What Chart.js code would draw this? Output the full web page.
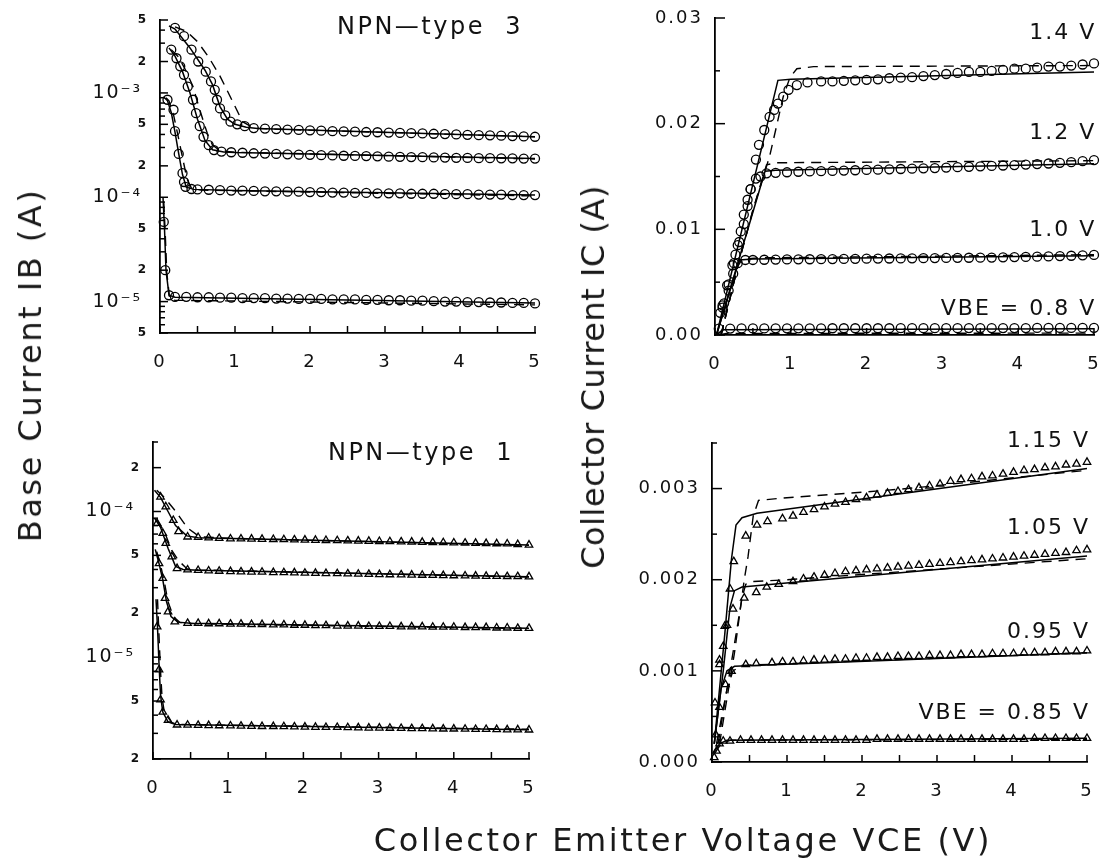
<!DOCTYPE html>
<html><head><meta charset="utf-8">
<script src="https://cdn.jsdelivr.net/npm/chart.js@4.4.1/dist/chart.umd.min.js"></script>
<style>
html,body{margin:0;padding:0;background:#fff;}
#wrap{position:relative;width:1109px;height:863px;overflow:hidden;background:#fff;}
#wrap canvas{position:absolute;left:0;top:0;}
.ttl{position:absolute;font-family:'DejaVu Sans',sans-serif;font-size:32px;color:#1a1a1a;white-space:nowrap;line-height:1;transform:translate(-50%,-50%);}
.rot{transform:translate(-50%,-50%) rotate(-90deg);}
</style></head>
<body><div id="wrap">
<canvas id="cTL" width="1109" height="863"></canvas>
<canvas id="cTR" width="1109" height="863"></canvas>
<canvas id="cBL" width="1109" height="863"></canvas>
<canvas id="cBR" width="1109" height="863"></canvas>
<div class="ttl rot" style="left:30px;top:365px;letter-spacing:2.5px">Base Current IB (A)</div>
<div class="ttl rot" style="left:593px;top:377px;letter-spacing:0.5px">Collector Current IC (A)</div>
<div class="ttl" style="left:683px;top:840px;letter-spacing:2.6px">Collector Emitter Voltage VCE (V)</div>
</div>
<script>
// ---------- shared x ticks ----------
const xTickValues = [0,0.5,1,1.5,2,2.5,3,3.5,4,4.5,5];
const xTickText   = ['0','','1','','2','','3','','4','','5'];

// ---------- Top-left: NPN-type 3, IB (log) ----------
const tlYTickVals = [5e-6,6e-6,7e-6,8e-6,9e-6,1e-5,2e-5,3e-5,4e-5,5e-5,6e-5,7e-5,8e-5,9e-5,1e-4,2e-4,3e-4,4e-4,5e-4,6e-4,7e-4,8e-4,9e-4,1e-3,2e-3,3e-3,4e-3,5e-3];
const tlYTickText = ['5','','','','','10⁻⁵','2','','','5','','','','','10⁻⁴','2','','','5','','','','','10⁻³','2','','','5'];
const tlSweep = [0.2,0.35,0.5,0.65,0.8,0.95,1.1,1.25,1.4,1.55,1.7,1.85,2.0,2.15,2.3,2.45,2.6,2.75,2.9,3.05,3.2,3.35,3.5,3.65,3.8,3.95,4.1,4.25,4.4,4.55,4.7,4.85,5.0];
const tlA_riseV = [0.2,0.32,0.42,0.51,0.61,0.68,0.73,0.76,0.8,0.87,0.94,1.03,1.13];
const tlA_I = [4.2e-3,3.5e-3,2.6e-3,2.0e-3,1.6e-3,1.29e-3,1.07e-3,8.6e-4,7.1e-4,6.1e-4,5.3e-4,5.0e-4,4.8e-4,
  4.6e-4,4.55e-4,4.5e-4,4.45e-4,4.42e-4,4.38e-4,4.35e-4,4.3e-4,4.28e-4,4.25e-4,4.22e-4,4.2e-4,4.17e-4,4.14e-4,4.11e-4,4.09e-4,4.06e-4,4.03e-4,4.0e-4,3.97e-4,3.94e-4,3.92e-4,3.89e-4,3.86e-4,3.83e-4,3.8e-4];
const tlB_riseV = [0.15,0.22,0.27,0.32,0.37,0.44,0.48,0.53,0.58,0.65,0.72,0.82];
const tlB_I = [2.6e-3,2.15e-3,1.8e-3,1.49e-3,1.15e-3,8.6e-4,6.4e-4,4.8e-4,3.8e-4,3.16e-4,2.83e-4,2.74e-4,
  2.70e-4,2.67e-4,2.64e-4,2.62e-4,2.6e-4,2.58e-4,2.56e-4,2.55e-4,2.53e-4,2.52e-4,2.5e-4,2.49e-4,2.48e-4,2.47e-4,2.45e-4,2.44e-4,2.43e-4,2.42e-4,2.41e-4,2.4e-4,2.39e-4,2.38e-4,2.37e-4,2.37e-4,2.36e-4,2.36e-4,2.35e-4,2.35e-4];
const tlC_riseV = [0.1,0.18,0.2,0.25,0.3,0.32,0.34,0.42];
const tlC_I = [8.6e-4,6.9e-4,4.3e-4,2.6e-4,1.7e-4,1.4e-4,1.26e-4,1.2e-4,
  1.19e-4,1.18e-4,1.17e-4,1.16e-4,1.16e-4,1.15e-4,1.14e-4,1.14e-4,1.13e-4,1.13e-4,1.12e-4,1.12e-4,1.11e-4,1.11e-4,1.1e-4,1.1e-4,1.09e-4,1.09e-4,1.09e-4,1.08e-4,1.08e-4,1.08e-4,1.07e-4,1.07e-4,1.07e-4,1.06e-4,1.06e-4,1.06e-4,1.05e-4,1.05e-4,1.05e-4];
const tlD_riseV = [0.05,0.07,0.12];
const tlD_I = [5.8e-5,2.0e-5,1.15e-5,
  1.11e-5,1.11e-5,1.1e-5,1.1e-5,1.09e-5,1.09e-5,1.08e-5,1.08e-5,1.08e-5,1.07e-5,1.07e-5,1.06e-5,1.06e-5,1.06e-5,1.05e-5,1.05e-5,1.05e-5,1.04e-5,1.04e-5,1.03e-5,1.03e-5,1.02e-5,1.02e-5,1.01e-5,1.0e-5,1.0e-5,9.9e-6,9.9e-6,9.8e-6,9.8e-6,9.7e-6,9.7e-6,9.6e-6];
const tlA_solidV = [0.12,0.2,0.4,0.6,0.7,0.8,0.9,1.0,1.15,1.3,5.0];
const tlA_solidI = [4.4e-3,4.1e-3,2.7e-3,1.65e-3,1.2e-3,7.4e-4,5.6e-4,5.0e-4,4.7e-4,4.55e-4,3.8e-4];
const tlA_dashV = [0.2,0.35,0.5,0.65,0.8,0.95,1.1,1.25,1.5,5.0];
const tlA_dashI = [4.3e-3,3.9e-3,3.1e-3,2.2e-3,1.45e-3,8.8e-4,5.3e-4,4.6e-4,4.5e-4,3.8e-4];
const tlB_solidV = [0.12,0.2,0.3,0.4,0.5,0.6,0.7,0.85,1.0,5.0];
const tlB_solidI = [2.7e-3,2.25e-3,1.6e-3,1.0e-3,5.6e-4,3.5e-4,2.85e-4,2.72e-4,2.68e-4,2.35e-4];
const tlB_dashV = [0.15,0.25,0.34,0.44,0.51,0.58,0.63,0.7,0.8,1.0,5.0];
const tlB_dashI = [2.6e-3,2.2e-3,1.66e-3,1.15e-3,7.7e-4,5.3e-4,4.1e-4,3.16e-4,2.8e-4,2.7e-4,2.33e-4];
const tlC_solidV = [0.06,0.1,0.15,0.2,0.25,0.3,0.35,0.45,1.0,5.0];
const tlC_solidI = [9e-4,8.4e-4,6.5e-4,4.2e-4,2.6e-4,1.65e-4,1.25e-4,1.19e-4,1.16e-4,1.05e-4];
const tlC_dashV = [0.08,0.12,0.18,0.24,0.3,0.36,0.42,0.55,5.0];
const tlC_dashI = [9e-4,8.4e-4,6.2e-4,3.9e-4,2.4e-4,1.5e-4,1.22e-4,1.17e-4,1.03e-4];
const tlD_solidV = [0.04,0.06,0.08,0.12,0.2,5.0];
const tlD_solidI = [1e-4,5e-5,2e-5,1.15e-5,1.1e-5,9.7e-6];
const tlD_dashV = [0.05,0.07,0.09,0.13,0.2,5.0];
const tlD_dashI = [9e-5,4.5e-5,1.9e-5,1.05e-5,1.03e-5,9.3e-6];

// ---------- Top-right: IC (linear), VBE 0.8..1.4 V ----------
const trYTickVals = [0,0.005,0.01,0.015,0.02,0.025,0.03];
const trYTickText = ['0.00','','0.01','','0.02','','0.03'];
const trSweep = [0.05,0.2,0.35,0.5,0.65,0.8,0.95,1.1,1.25,1.4,1.55,1.7,1.85,2.0,2.15,2.3,2.45,2.6,2.75,2.9,3.05,3.2,3.35,3.5,3.65,3.8,3.95,4.1,4.25,4.4,4.55,4.7,4.85,5.0];
const tr08_I = [0.0006,0.00061,0.00062,0.00062,0.00062,0.00063,0.00063,0.00063,0.00063,0.00063,0.00064,0.00064,0.00064,0.00064,0.00064,0.00064,0.00065,0.00065,0.00065,0.00065,0.00065,0.00065,0.00066,0.00066,0.00066,0.00066,0.00066,0.00066,0.00067,0.00067,0.00067,0.00067,0.00067,0.00068];
const tr10_riseV = [0.07,0.12,0.18,0.24,0.3,0.4];
const tr10_I = [0.0021,0.003,0.0042,0.0058,0.0068,0.0071,
  0.0071,0.00712,0.00714,0.00715,0.00716,0.00717,0.00718,0.00719,0.0072,0.00721,0.00722,0.00723,0.00724,0.00725,0.00726,0.00727,0.00728,0.00729,0.0073,0.00731,0.00732,0.00733,0.00735,0.00737,0.00739,0.00741,0.00744,0.00747,0.0075,0.00754,0.00758];
const tr12_riseV = [0.1,0.16,0.23,0.27,0.32,0.38,0.43,0.47,0.54,0.6,0.68];
const tr12_I = [0.0026,0.0047,0.0066,0.0076,0.0088,0.0105,0.0122,0.0138,0.0148,0.015,0.0153,
  0.01535,0.0154,0.01545,0.01548,0.0155,0.01553,0.01556,0.01559,0.01562,0.01565,0.01568,0.01571,0.01574,0.01577,0.0158,0.01584,0.01588,0.01592,0.01596,0.016,0.01604,0.01608,0.01613,0.01618,0.01623,0.01629,0.01636,0.01645,0.01655];
const tr14_riseV = [0.1,0.18,0.25,0.3,0.34,0.38,0.43,0.47,0.54,0.58,0.65,0.72,0.78,0.83,0.9,0.97,1.08,1.22];
const tr14_I = [0.0028,0.0048,0.0068,0.0085,0.0098,0.0114,0.0128,0.0138,0.0166,0.018,0.0194,0.02065,0.0213,0.0219,0.02255,0.0232,0.02365,0.0239,
  0.024,0.024,0.02405,0.0241,0.02415,0.0242,0.0243,0.02435,0.0244,0.0245,0.0246,0.0247,0.0248,0.0249,0.0249,0.025,0.0251,0.0252,0.0252,0.0253,0.0254,0.0254,0.0255,0.0256,0.0257];
const tr14_solidV = [0.02,0.83,1.0,5.0];       const tr14_solidI = [0,0.0241,0.0242,0.0249];
const tr14_dashV = [0.08,0.3,0.5,0.72,0.81,0.9,0.99,1.08,1.3,5.0];
const tr14_dashI = [0,0.0065,0.0118,0.0169,0.0197,0.02255,0.0244,0.0252,0.0254,0.0255];
const tr12_solidV = [0.02,0.66,0.8,5.0];       const tr12_solidI = [0,0.0155,0.0156,0.0162];
const tr12_dashV = [0.08,0.3,0.5,0.6,0.68,0.8,5.0];
const tr12_dashI = [0,0.0065,0.0118,0.0142,0.0161,0.0163,0.0165];
const tr10_solidV = [0.02,0.32,0.5,5.0];       const tr10_solidI = [0,0.0071,0.0072,0.0075];
const tr10_dashV = [0.08,0.3,0.36,0.6,5.0];    const tr10_dashI = [0,0.0065,0.0072,0.0073,0.0076];
const tr08_solidV = [0.02,0.1,5.0];            const tr08_solidI = [0,0.0005,0.0006];
const tr08_dashV = [0.05,0.15,5.0];            const tr08_dashI = [0,0.00015,0.00018];

// ---------- Bottom-left: NPN-type 1, IB (log) ----------
const blYTickVals = [2e-6,3e-6,4e-6,5e-6,6e-6,7e-6,8e-6,9e-6,1e-5,2e-5,3e-5,4e-5,5e-5,6e-5,7e-5,8e-5,9e-5,1e-4,2e-4,3e-4];
const blYTickText = ['2','','','5','','','','','10⁻⁵','2','','','5','','','','','10⁻⁴','2',''];
const blSweep = [0.32,0.46,0.6,0.74,0.88,1.03,1.17,1.31,1.45,1.6,1.74,1.88,2.02,2.16,2.3,2.45,2.59,2.73,2.87,3.01,3.15,3.3,3.44,3.58,3.72,3.86,4.0,4.15,4.29,4.43,4.57,4.71,4.85,5.0];
const bl1_riseV = [0.1,0.17,0.27,0.34];
const bl1_I = [1.26e-4,1.08e-4,8.7e-5,7.3e-5,
  6.7e-5,6.65e-5,6.6e-5,6.55e-5,6.5e-5,6.5e-5,6.48e-5,6.46e-5,6.44e-5,6.42e-5,6.4e-5,6.38e-5,6.36e-5,6.34e-5,6.32e-5,6.3e-5,6.28e-5,6.26e-5,6.24e-5,6.22e-5,6.2e-5,6.18e-5,6.16e-5,6.14e-5,6.12e-5,6.1e-5,6.08e-5,6.06e-5,6.04e-5,6.02e-5,6.0e-5,5.95e-5,5.9e-5];
const bl2_riseV = [0.055,0.13,0.17,0.25,0.32];
const bl2_I = [8.3e-5,7.1e-5,6.05e-5,4.9e-5,4.07e-5,
  3.98e-5,3.95e-5,3.92e-5,3.9e-5,3.88e-5,3.86e-5,3.85e-5,3.84e-5,3.82e-5,3.81e-5,3.8e-5,3.78e-5,3.77e-5,3.76e-5,3.75e-5,3.74e-5,3.72e-5,3.71e-5,3.7e-5,3.69e-5,3.68e-5,3.67e-5,3.66e-5,3.65e-5,3.64e-5,3.63e-5,3.62e-5,3.61e-5,3.6e-5,3.59e-5,3.58e-5,3.58e-5,3.57e-5];
const bl3_riseV = [0.08,0.13,0.16,0.2,0.29];
const bl3_I = [4.4e-5,3.48e-5,2.54e-5,2.05e-5,1.75e-5,
  1.71e-5,1.71e-5,1.7e-5,1.7e-5,1.69e-5,1.69e-5,1.68e-5,1.68e-5,1.67e-5,1.67e-5,1.66e-5,1.66e-5,1.65e-5,1.65e-5,1.64e-5,1.64e-5,1.64e-5,1.63e-5,1.63e-5,1.63e-5,1.62e-5,1.62e-5,1.62e-5,1.61e-5,1.61e-5,1.61e-5,1.6e-5,1.6e-5,1.6e-5,1.59e-5,1.59e-5,1.58e-5,1.58e-5];
const bl4_riseV = [0.055,0.08,0.1,0.13,0.2];
const bl4_I = [1.62e-5,8.2e-6,5.1e-6,4.2e-6,3.7e-6,
  3.43e-6,3.42e-6,3.41e-6,3.4e-6,3.39e-6,3.38e-6,3.37e-6,3.36e-6,3.35e-6,3.35e-6,3.34e-6,3.33e-6,3.32e-6,3.31e-6,3.3e-6,3.3e-6,3.29e-6,3.28e-6,3.27e-6,3.27e-6,3.26e-6,3.25e-6,3.24e-6,3.24e-6,3.23e-6,3.22e-6,3.22e-6,3.21e-6,3.2e-6,3.2e-6,3.19e-6,3.18e-6,3.18e-6,3.17e-6];
const bl1_solidV = [0.02,0.1,0.2,0.3,0.45,0.6,5.0];   const bl1_solidI = [1.4e-4,1.25e-4,1.0e-4,8.0e-5,6.8e-5,6.6e-5,5.9e-5];
const bl1_dashV = [0.05,0.15,0.29,0.46,0.62,1.0,5.0]; const bl1_dashI = [1.4e-4,1.25e-4,1.02e-4,7.7e-5,6.7e-5,6.55e-5,5.85e-5];
const bl2_solidV = [0.02,0.1,0.2,0.3,0.4,0.6,5.0];    const bl2_solidI = [9e-5,7.8e-5,5.6e-5,4.2e-5,4.0e-5,3.95e-5,3.57e-5];
const bl2_dashV = [0.05,0.15,0.25,0.34,0.45,0.6,5.0]; const bl2_dashI = [8.8e-5,7.3e-5,5.4e-5,4.6e-5,4.05e-5,3.97e-5,3.55e-5];
const bl3_solidV = [0.03,0.08,0.13,0.18,0.24,0.33,0.5,5.0]; const bl3_solidI = [5.5e-5,4.4e-5,3.4e-5,2.4e-5,1.9e-5,1.74e-5,1.71e-5,1.58e-5];
const bl3_dashV = [0.05,0.1,0.15,0.2,0.27,0.36,0.55,5.0];  const bl3_dashI = [5.3e-5,4.3e-5,3.3e-5,2.4e-5,1.9e-5,1.73e-5,1.7e-5,1.57e-5];
const bl4_solidV = [0.04,0.06,0.08,0.1,0.13,0.2,0.3,5.0];  const bl4_solidI = [2.5e-5,1.6e-5,9e-6,5.5e-6,4.2e-6,3.6e-6,3.45e-6,3.17e-6];
const bl4_dashV = [0.06,0.08,0.1,0.12,0.15,0.25,0.35,5.0]; const bl4_dashI = [2.5e-5,1.4e-5,8e-6,5.3e-6,4.2e-6,3.55e-6,3.45e-6,3.2e-6];

// ---------- Bottom-right: IC (linear), VBE 0.85..1.15 V ----------
const brYTickVals = [0,0.0005,0.001,0.0015,0.002,0.0025,0.003,0.0035];
const brYTickText = ['0.000','','0.001','','0.002','','0.003',''];
const brSweep = [0.24,0.38,0.52,0.66,0.8,0.94,1.08,1.22,1.36,1.5,1.64,1.78,1.92,2.06,2.2,2.34,2.48,2.62,2.76,2.9,3.04,3.18,3.32,3.46,3.6,3.74,3.88,4.02,4.16,4.3,4.44,4.58,4.72,4.86,5.0];
const br085_riseV = [0.03,0.06,0.1,0.15];
const br085_I = [0.00005,0.00012,0.0002,0.00023,
  0.00023,0.00024,0.00024,0.00024,0.00024,0.00024,0.00024,0.00024,0.00024,0.00024,0.00024,0.00024,0.00024,0.00024,0.00025,0.00025,0.00025,0.00025,0.00025,0.00025,0.00025,0.00025,0.00025,0.00025,0.00025,0.00025,0.00025,0.00025,0.00025,0.00026,0.00026,0.00026,0.00026,0.00026,0.00026];
const br095_riseV = [0.05,0.1,0.18,0.26,0.45,0.59];
const br095_I = [0.0003,0.0006,0.00085,0.000995,0.00107,0.00108,
  0.00109,0.0011,0.0011,0.00111,0.00112,0.00112,0.00113,0.00113,0.00114,0.00114,0.00115,0.00115,0.00116,0.00116,0.00116,0.00117,0.00117,0.00117,0.00118,0.00118,0.00118,0.00119,0.00119,0.00119,0.0012,0.0012,0.0012,0.00121,0.00121,0.00121,0.00122];
const br105_riseV = [0.04,0.1,0.15,0.2,0.28,0.43,0.59,0.73,0.89];
const br105_I = [0.00065,0.00107,0.00127,0.0015,0.00168,0.0018,0.00186,0.00192,0.00195,
  0.00198,0.00201,0.00203,0.00205,0.00207,0.00209,0.0021,0.00211,0.00212,0.00213,0.00214,0.00215,0.00216,0.00217,0.00218,0.00219,0.0022,0.00221,0.00222,0.00223,0.00224,0.00225,0.00226,0.00227,0.00228,0.00229,0.0023,0.00232,0.00233];
const br115_riseV = [0.1,0.17,0.24,0.29,0.45,0.6,0.74];
const br115_I = [0.00112,0.00149,0.0019,0.0022,0.00248,0.0026,0.00264,
  0.00267,0.0027,0.00274,0.00277,0.0028,0.00283,0.00285,0.00288,0.0029,0.00293,0.00295,0.00297,0.00299,0.00301,0.00303,0.00305,0.00308,0.0031,0.00311,0.00313,0.00314,0.00316,0.00318,0.0032,0.00321,0.00323,0.00324,0.00326,0.00327,0.00329];
const br115_solidV = [0.03,0.17,0.26,0.32,0.4,0.6,5.0];  const br115_solidI = [0.0002,0.0014,0.00223,0.0026,0.00268,0.00273,0.00322];
const br115_dashV = [0.1,0.3,0.43,0.48,0.55,0.62,1.0,1.5,2.0,2.6,5.0];
const br115_dashI = [0.0002,0.0012,0.002,0.00225,0.0027,0.00287,0.0029,0.00293,0.00296,0.003,0.0032];
const br105_solidV = [0.03,0.15,0.24,0.3,0.4,5.0];      const br105_solidI = [0.0002,0.001,0.0017,0.00188,0.00192,0.00226];
const br105_dashV = [0.08,0.3,0.4,0.45,0.55,1.0,5.0];   const br105_dashI = [0.0002,0.0013,0.0018,0.00195,0.00198,0.002,0.00223];
const br095_solidV = [0.03,0.12,0.2,0.3,5.0];           const br095_solidI = [0.0002,0.0008,0.001,0.00105,0.0012];
const br095_dashV = [0.06,0.2,0.28,0.4,5.0];            const br095_dashI = [0.0002,0.0008,0.001,0.00106,0.0012];
const br085_solidV = [0.02,0.1,0.2,5.0];                const br085_solidI = [0.0001,0.0002,0.00024,0.00026];
const br085_dashV = [0.04,0.12,0.25,5.0];               const br085_dashI = [0.0001,0.0002,0.00024,0.00025];

// ---------- helpers ----------
const FONT = "'DejaVu Sans', sans-serif";
const W = 1109, H = 863, YW = 120, XH = 44;
function pts(v, i) { return v.map((x, k) => ({x: x, y: i[k]})); }
function solid(v, i) { return {data: pts(v, i), showLine: true, borderColor: '#000', borderWidth: 1.5, pointRadius: 0, pointHoverRadius: 0, fill: false, tension: 0, clip: false}; }
function dashed(v, i) { const d = solid(v, i); d.borderDash = [10, 7]; d.borderWidth = 1.4; return d; }
function marks(v, i, style) {
  return {data: pts(v, i), showLine: false, pointStyle: style, pointRadius: style === 'circle' ? 4.5 : 4.3,
    pointBorderColor: '#000', pointBackgroundColor: 'rgba(0,0,0,0)', pointBorderWidth: 1.3,
    borderColor: '#000', backgroundColor: 'rgba(0,0,0,0)', clip: false};
}
const spacingPlugin = {id: 'spacing', beforeDraw(c) { c.ctx.letterSpacing = '2px'; }};
function innerTicks(yLen, yMinor) {
  return {id: 'innerTicks', afterDraw(c) {
    const ctx = c.ctx, xs = c.scales.x, ys = c.scales.y;
    ctx.save(); ctx.strokeStyle = '#000'; ctx.lineWidth = 1.5;
    xs.ticks.forEach(t => { const p = xs.getPixelForValue(t.value); ctx.beginPath(); ctx.moveTo(p, xs.top); ctx.lineTo(p, xs.top - 7); ctx.stroke(); });
    ys.ticks.forEach(t => { const p = ys.getPixelForValue(t.value); const L = t.label ? yLen : yMinor; ctx.beginPath(); ctx.moveTo(ys.right, p); ctx.lineTo(ys.right + L, p); ctx.stroke(); });
    ctx.restore();
  }};
}
function notesPlugin(items) {
  return {id: 'notes', afterDraw(c) {
    const ctx = c.ctx; ctx.save();
    items.forEach(it => {
      ctx.font = it.font; ctx.letterSpacing = it.ls; ctx.fillStyle = '#111';
      ctx.textAlign = 'right'; ctx.textBaseline = 'middle';
      ctx.fillText(it.text, c.scales.x.getPixelForValue(it.x), c.scales.y.getPixelForValue(it.y));
    });
    ctx.restore();
  }};
}
function zeroPad(s) { s.paddingLeft = 0; s.paddingRight = 0; s.paddingTop = 0; s.paddingBottom = 0; }

function panel(id, area, yType, yMin, yMax, yVals, yText, datasets, notes) {
  const isLog = yType === 'logarithmic';
  new Chart(document.getElementById(id), {
    type: 'scatter',
    data: {datasets: datasets},
    options: {
      responsive: false, animation: false, devicePixelRatio: 1,
      events: [],
      layout: {padding: {left: area.l - YW, top: area.t, right: W - area.r, bottom: H - area.b - XH}},
      plugins: {legend: {display: false}, tooltip: {enabled: false}},
      scales: {
        x: {type: 'linear', min: 0, max: 5,
          afterBuildTicks: s => { s.ticks = xTickValues.map(v => ({value: v})); },
          afterFit: s => { s.height = XH; zeroPad(s); },
          grid: {display: false, drawTicks: false},
          border: {display: true, color: '#000', width: 1.8},
          ticks: {autoSkip: false, maxRotation: 0, padding: 19, color: '#111', font: {family: FONT, size: 18},
            callback: (v, i) => xTickText[i]}},
        y: {type: yType, min: yMin, max: yMax,
          afterBuildTicks: s => { s.ticks = yVals.map(v => ({value: v})); },
          afterFit: s => { s.width = YW; zeroPad(s); },
          grid: {display: false, drawTicks: false},
          border: {display: true, color: '#000', width: 1.8},
          ticks: {autoSkip: false, padding: 12, color: '#111',
            font: c => {
              const t = yText[c.index] || '';
              if (!isLog) return {family: FONT, size: 18};
              if (t.startsWith('10')) return {family: FONT, size: 19};
              return {family: FONT, size: 12, weight: 'bold'};
            },
            callback: (v, i) => (isLog && yText[i].startsWith('10')) ? yText[i] + '\u2009' : yText[i]}}
      }
    },
    plugins: [spacingPlugin, innerTicks(isLog ? 8 : 10, 5), notesPlugin(notes)]
  });
}

// ---------- build panels ----------
panel('cTL', {l: 160, t: 20, r: 535, b: 333}, 'logarithmic', 5e-6, 5e-3, tlYTickVals, tlYTickText, [
  solid(tlA_solidV, tlA_solidI), dashed(tlA_dashV, tlA_dashI), marks([...tlA_riseV, ...tlSweep.slice(7)], tlA_I, 'circle'),
  solid(tlB_solidV, tlB_solidI), dashed(tlB_dashV, tlB_dashI), marks([...tlB_riseV, ...tlSweep.slice(5)], tlB_I, 'circle'),
  solid(tlC_solidV, tlC_solidI), dashed(tlC_dashV, tlC_dashI), marks([...tlC_riseV, ...tlSweep.slice(2)], tlC_I, 'circle'),
  solid(tlD_solidV, tlD_solidI), dashed(tlD_dashV, tlD_dashI), marks([...tlD_riseV, ...tlSweep], tlD_I, 'circle')
], [{text: 'NPN—type  3', x: 4.84, y: 4.2e-3, font: "24px 'DejaVu Sans'", ls: '2.5px'}]);

panel('cTR', {l: 715, t: 18, r: 1094, b: 335}, 'linear', 0, 0.03, trYTickVals, trYTickText, [
  solid(tr14_solidV, tr14_solidI), dashed(tr14_dashV, tr14_dashI), marks([...tr14_riseV, ...trSweep.slice(9)], tr14_I, 'circle'),
  solid(tr12_solidV, tr12_solidI), dashed(tr12_dashV, tr12_dashI), marks([...tr12_riseV, ...trSweep.slice(5)], tr12_I, 'circle'),
  solid(tr10_solidV, tr10_solidI), dashed(tr10_dashV, tr10_dashI), marks([...tr10_riseV, ...trSweep.slice(3)], tr10_I, 'circle'),
  solid(tr08_solidV, tr08_solidI), dashed(tr08_dashV, tr08_dashI), marks(trSweep, tr08_I, 'circle')
], [
  {text: '1.4 V', x: 5.03, y: 0.0286, font: "22px 'DejaVu Sans'", ls: '2px'},
  {text: '1.2 V', x: 5.03, y: 0.0191, font: "22px 'DejaVu Sans'", ls: '2px'},
  {text: '1.0 V', x: 5.03, y: 0.0099, font: "22px 'DejaVu Sans'", ls: '2px'},
  {text: 'VBE = 0.8 V', x: 5.03, y: 0.0024, font: "22px 'DejaVu Sans'", ls: '2px'}
]);

panel('cBL', {l: 153, t: 442, r: 529, b: 759}, 'logarithmic', 2e-6, 3e-4, blYTickVals, blYTickText, [
  solid(bl1_solidV, bl1_solidI), dashed(bl1_dashV, bl1_dashI), marks([...bl1_riseV, ...blSweep.slice(1)], bl1_I, 'triangle'),
  solid(bl2_solidV, bl2_solidI), dashed(bl2_dashV, bl2_dashI), marks([...bl2_riseV, ...blSweep.slice(1)], bl2_I, 'triangle'),
  solid(bl3_solidV, bl3_solidI), dashed(bl3_dashV, bl3_dashI), marks([...bl3_riseV, ...blSweep.slice(1)], bl3_I, 'triangle'),
  solid(bl4_solidV, bl4_solidI), dashed(bl4_dashV, bl4_dashI), marks([...bl4_riseV, ...blSweep], bl4_I, 'triangle')
], [{text: 'NPN—type  1', x: 4.8, y: 2.48e-4, font: "24px 'DejaVu Sans'", ls: '2.5px'}]);

panel('cBR', {l: 712, t: 443, r: 1087, b: 762}, 'linear', 0, 0.0035, brYTickVals, brYTickText, [
  solid(br115_solidV, br115_solidI), dashed(br115_dashV, br115_dashI), marks([...br115_riseV, ...brSweep.slice(5)], br115_I, 'triangle'),
  solid(br105_solidV, br105_solidI), dashed(br105_dashV, br105_dashI), marks([...br105_riseV, ...brSweep.slice(6)], br105_I, 'triangle'),
  solid(br095_solidV, br095_solidI), dashed(br095_dashV, br095_dashI), marks([...br095_riseV, ...brSweep.slice(4)], br095_I, 'triangle'),
  solid(br085_solidV, br085_solidI), dashed(br085_dashV, br085_dashI), marks([...br085_riseV, ...brSweep], br085_I, 'triangle')
], [
  {text: '1.15 V', x: 5.04, y: 0.00352, font: "22px 'DejaVu Sans'", ls: '2px'},
  {text: '1.05 V', x: 5.04, y: 0.00256, font: "22px 'DejaVu Sans'", ls: '2px'},
  {text: '0.95 V', x: 5.04, y: 0.00142, font: "22px 'DejaVu Sans'", ls: '2px'},
  {text: 'VBE = 0.85 V', x: 5.04, y: 0.00054, font: "22px 'DejaVu Sans'", ls: '2px'}
]);
</script></body></html>
